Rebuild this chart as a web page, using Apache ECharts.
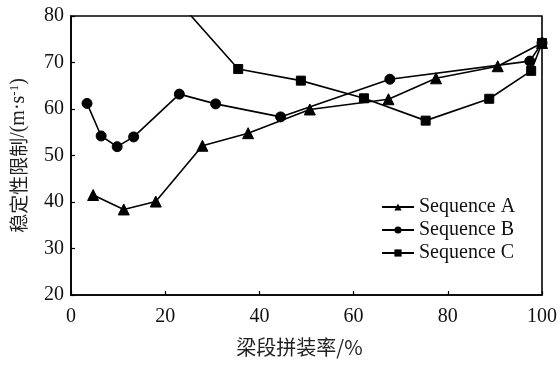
<!DOCTYPE html>
<html>
<head>
<meta charset="utf-8">
<script src="https://cdn.jsdelivr.net/npm/echarts@6/dist/echarts.min.js"></script>
<style>
  html, body { margin: 0; padding: 0; background: #fff; }
  #chart { width: 560px; height: 365px; }
</style>
</head>
<body>
<div id="chart"></div>
<script>
// Assembly ratio (%) and stability limit (m/s) for three erection sequences
var seqAx = [4.7, 11.2, 18.0, 27.9, 37.6, 50.7, 67.4, 77.5, 90.6, 100];
var seqAy = [41.5, 38.4, 40.1, 52.1, 54.8, 59.9, 62.1, 66.6, 69.2, 74.2];

var seqBx = [3.4, 6.4, 9.8, 13.3, 23.0, 30.7, 44.5, 67.7, 97.4, 100];
var seqBy = [61.2, 54.2, 51.9, 54.0, 63.2, 61.1, 58.3, 66.4, 70.3, 74.2];

var seqCx = [20.0, 35.5, 48.8, 62.2, 75.3, 88.8, 97.7, 100];
var seqCy = [86.3, 68.6, 66.1, 62.3, 57.5, 62.2, 68.2, 74.2];

var seriesNames = ['Sequence A', 'Sequence B', 'Sequence C'];
var xTicks = [0, 20, 40, 60, 80, 100];
var yTicks = [20, 30, 40, 50, 60, 70, 80];

function pairs(xs, ys) {
  return xs.map(function (x, i) { return [x, ys[i]]; });
}

var serif = '"Liberation Serif", "DejaVu Serif", serif';
var cjk = '"Noto Sans CJK SC", sans-serif';

function lineSeries(name, data, symbol, size) {
  return {
    name: name,
    type: 'line',
    data: data,
    symbol: symbol,
    symbolSize: size,
    showSymbol: true,
    clip: true,
    lineStyle: { color: '#000', width: 1.6 },
    itemStyle: { color: '#000', borderColor: '#000' },
    emphasis: { disabled: true },
    animation: false
  };
}

var chart = echarts.init(document.getElementById('chart'), null, { renderer: 'canvas' });
chart.setOption({
  backgroundColor: '#fff',
  animation: false,
  grid: {
    left: 70.7, right: 14.3, top: 16, bottom: 70,
    show: true, borderColor: '#000', borderWidth: 1.6, backgroundColor: 'transparent'
  },
  legend: {
    data: seriesNames,
    orient: 'vertical',
    left: 376, top: 192,
    itemWidth: 32, itemHeight: 9,
    itemGap: 3,
    textStyle: { fontFamily: serif, fontSize: 20, color: '#111' }
  },
  xAxis: {
    type: 'value',
    min: xTicks[0], max: xTicks[xTicks.length - 1], interval: 20,
    name: '梁段拼装率/%',
    nameLocation: 'middle',
    nameGap: 42,
    nameTextStyle: { fontFamily: cjk, fontSize: 20, color: '#222', padding: [0, 14, 0, 0] },
    axisLine: { show: true, lineStyle: { color: '#000', width: 1.6 } },
    axisTick: { show: true, inside: true, length: 4, lineStyle: { color: '#000', width: 1.2 } },
    axisLabel: { fontFamily: serif, fontSize: 20, color: '#111', margin: 12 },
    splitLine: { show: false }
  },
  yAxis: {
    type: 'value',
    min: yTicks[0], max: yTicks[yTicks.length - 1], interval: 10,
    name: '{c|稳定性限制}{l|/(m·s}{s|-1}{l|)}',
    nameLocation: 'middle',
    nameRotate: 90,
    nameGap: 42,
    nameTextStyle: {
      color: '#222',
      rich: {
        c: { fontFamily: cjk, fontSize: 19, color: '#222' },
        l: { fontFamily: serif, fontSize: 20, color: '#222' },
        s: { fontFamily: serif, fontSize: 13, color: '#222', verticalAlign: 'top', padding: [0, 0, 8, 0] }
      }
    },
    axisLine: { show: true, lineStyle: { color: '#000', width: 1.6 } },
    axisTick: { show: true, inside: true, length: 4, lineStyle: { color: '#000', width: 1.2 } },
    axisLabel: { fontFamily: serif, fontSize: 20, color: '#111', margin: 7 },
    splitLine: { show: false }
  },
  series: [
    lineSeries(seriesNames[0], pairs(seqAx, seqAy), 'triangle', 11),
    lineSeries(seriesNames[1], pairs(seqBx, seqBy), 'circle', 10),
    lineSeries(seriesNames[2], pairs(seqCx, seqCy), 'rect', 9)
  ]
});
</script>
</body>
</html>
